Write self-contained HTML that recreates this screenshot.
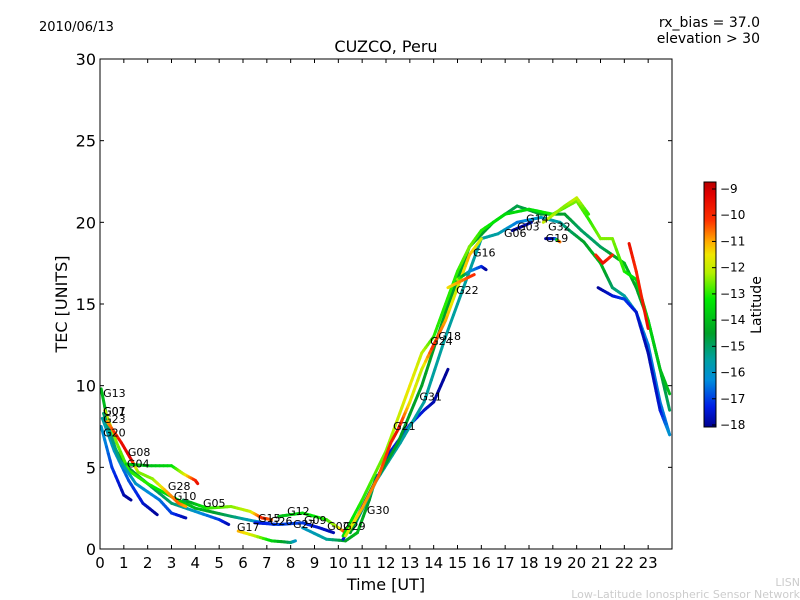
<!DOCTYPE html>
<html><head><meta charset="utf-8"><style>
body{margin:0;background:#fff;}
svg{display:block;font-family:"DejaVu Sans","Liberation Sans",sans-serif;}
</style></head><body>
<svg id="chart" width="800" height="600">
<rect width="800" height="600" fill="#fff"/>
<text x="39" y="31" font-size="13">2010/06/13</text>
<text x="760" y="27" font-size="14" text-anchor="end">rx_bias = 37.0</text>
<text x="760" y="43" font-size="14" text-anchor="end">elevation &gt; 30</text>
<text x="386" y="52" font-size="16" text-anchor="middle">CUZCO, Peru</text>
<g id="plot"></g>
<g id="axes"></g>
<text x="386" y="590" font-size="16" text-anchor="middle">Time [UT]</text>
<text transform="translate(67,304) rotate(-90)" font-size="16" text-anchor="middle">TEC [UNITS]</text>
<g id="cbar"></g>
<text transform="translate(761,305) rotate(-90)" font-size="14" text-anchor="middle">Latitude</text>
<text x="800" y="586" font-size="11" fill="#ccc" text-anchor="end">LISN</text>
<text x="800" y="598" font-size="11" fill="#ccc" text-anchor="end">Low-Latitude Ionospheric Sensor Network</text>
</svg>
<script>
const xTicks=[0,1,2,3,4,5,6,7,8,9,10,11,12,13,14,15,16,17,18,19,20,21,22,23];
const yTicks=[0,5,10,15,20,25,30];
const cbTicks=[-9,-10,-11,-12,-13,-14,-15,-16,-17,-18];
// tracks: [hour, tec, latitude]
const trackG01=[[0.05,7.5,-16],[0.5,5,-17],[1,3.3,-17.8],[1.3,3,-18]];
const trackG23=[[0.1,8,-15.5],[0.6,6,-16],[1.2,4.2,-16.8],[1.8,2.8,-17.5],[2.4,2.1,-18]];
const trackG20=[[0.15,8.3,-15],[0.8,5.5,-15.3],[1.5,4,-16],[2.5,3,-16.5],[3,2.2,-17],[3.6,1.9,-17.8]];
const trackG13=[[0.05,9.8,-14],[0.5,6.5,-14.2],[1,5.2,-14.5],[2,4,-14.8],[3,2.8,-15],[4,2.3,-16],[5,1.8,-17],[5.4,1.5,-17.8]];
const trackG07=[[0.2,8.5,-12],[0.7,6.5,-12.5],[1.2,4.8,-13],[2,4,-13],[3,3.2,-13.5],[4,2.5,-14],[5.5,2,-15],[6.5,1.7,-16],[7.3,1.5,-17.5]];
const trackG08=[[0.3,7.8,-11],[0.9,6.5,-9.5],[1.3,5.5,-9.2],[1.6,4.7,-12.5],[2.2,4.3,-12.5],[2.8,3.5,-11],[3.3,2.8,-10.5],[3.6,2.6,-11]];
const trackG04=[[1.1,5.2,-13.5],[2,5.1,-14],[3,5.1,-13.5],[3.5,4.6,-12],[4,4.2,-10],[4.1,4,-9.5]];
const trackG05=[[3.5,3,-15],[4.5,2.5,-13],[5.5,2.6,-12.5],[6.3,2.3,-12],[6.8,1.9,-10],[7.2,1.8,-10.5]];
const trackG17=[[5.8,1.1,-11],[6.5,0.8,-12],[7.2,0.5,-13.5],[8,0.4,-15],[8.2,0.5,-16]];
const trackG12=[[7.5,2.0,-14],[8.5,2.2,-13.5],[9.5,1.8,-13],[10,1.3,-12],[10.3,1.0,-10]];
const trackG26=[[6.5,1.6,-17.5],[7.5,1.5,-17],[8.5,1.6,-17],[9.2,1.3,-17.5],[9.8,1.0,-17.8]];
const trackG02=[[8.5,1.3,-16],[9.5,0.6,-15.5],[10.3,0.5,-14.5],[10.8,1.0,-14],[11.3,3,-14.5],[11.6,4.5,-15]];
const trackG30=[[10.2,0.6,-17.5],[10.8,2,-17.8],[11.5,4,-18],[12.2,6,-17.5],[13,7.6,-17],[13.6,8.5,-17.5],[14,9,-17.8],[14.6,11,-18]];
const trackG21=[[10.3,0.8,-12],[11,2.5,-11],[11.7,4.5,-10.5],[12.2,6.5,-10],[12.5,7.3,-9.5],[13,9,-11.5],[13.5,11,-12],[14,12.5,-10],[14.5,14,-11],[15,16,-12],[15.5,18,-11],[16,19,-12]];
const trackG18=[[10.2,0.8,-13.5],[11,3,-13],[12,6,-12.5],[12.5,8,-12],[13,10,-11.5],[13.5,12,-12],[14,13,-13],[14.5,15,-13],[15,17,-13],[15.5,18.5,-12.5],[16,19.5,-13],[17,20.5,-13.5],[18,20.8,-13.5],[19,20.5,-13],[20,21.3,-12.5],[20.5,20.2,-13],[21,19,-12.5],[21.5,19,-12.5],[22,17,-13],[22.5,16.5,-13.5],[23,14,-13.5],[23.5,11,-14],[23.9,9.5,-14]];
const trackG24=[[10.5,1,-14.5],[11.5,4,-14.5],[12.5,6.5,-14.5],[13.5,10,-14.5],[14.5,14.5,-14.5],[15.5,18.5,-14.5],[16.5,20,-14.5],[17.5,21,-14.8],[18.5,20.5,-14.5],[19.5,20.5,-14.5],[20.2,19.5,-15],[21,18.5,-15],[21.5,18,-14.5],[22,17.5,-14],[22.5,16,-14.5],[23,14,-14.5],[23.5,11,-14.5],[23.9,8.5,-15]];
const trackG06=[[10.6,1.2,-15.5],[11.6,4.2,-15.5],[12.6,6.5,-15.5],[13.6,9,-15.5],[14.5,13,-15.5],[15.5,17,-15.5],[16,19,-15.5],[16.7,19.3,-15.5],[17.5,20,-16.5],[18.5,20.3,-16],[19.3,20,-15.5],[19.7,19.5,-15],[20.3,18.8,-14.5],[21,17.5,-14],[21.5,16,-15],[22,15.5,-15.5],[22.5,14.5,-16],[23,12.5,-16.5],[23.5,9,-16.5],[23.9,7,-16.5]];
const trackG16=[[15,16.5,-12],[15.5,17,-16],[16,17.3,-17],[16.2,17.1,-18]];
const trackG22=[[14.6,16,-11.5],[15,16.3,-11],[15.7,16.8,-10]];
const trackG03=[[17.3,19.5,-18],[17.8,19.8,-18],[18.1,20,-17.5]];
const trackG19=[[18.7,19,-18],[19.1,19,-17.5],[19.3,18.8,-10]];
const trackG32=[[18.6,20,-12],[19.5,21,-12.5],[20,21.5,-12],[20.5,20.5,-13]];
const trackG14=[[20.9,16,-18],[21.5,15.5,-17.5],[22,15.3,-17],[22.5,14.5,-17.5],[23,12,-17.8],[23.5,8.5,-17.5],[23.9,7,-16]];
const trackG27=[[22.2,18.7,-9.5],[22.5,17,-10],[23,13.5,-9.5]];
const trackG09=[[20.8,18,-10],[21.1,17.5,-9.5],[21.5,18,-10]];
const tracks=[trackG13,trackG07,trackG23,trackG20,trackG01,trackG08,trackG04,trackG05,trackG17,trackG12,trackG26,trackG02,trackG30,trackG06,trackG24,trackG18,trackG21,trackG16,trackG22,trackG32,trackG03,trackG19,trackG14,trackG27,trackG09];
const labelNames=["G13","G01","G07","G23","G20","G08","G04","G28","G10","G05","G17","G15","G26","G12","G09","G27","G02","G29","G30","G21","G31","G24","G18","G22","G16","G06","G03","G14","G32","G19"];
const labelHours=[0.13,0.13,0.13,0.13,0.13,1.17,1.13,2.85,3.1,4.32,5.75,6.63,7.13,7.85,8.56,8.1,9.53,10.2,11.2,12.3,13.4,13.85,14.2,14.94,15.65,16.95,17.5,17.88,18.8,18.7];
const labelTec=[9.3,8.2,8.2,7.7,6.9,5.7,5.0,3.6,3.0,2.57,1.1,1.65,1.47,2.08,1.53,1.29,1.16,1.16,2.14,7.3,9.1,12.5,12.8,15.6,17.9,19.1,19.5,20.0,19.5,18.8];

const X0=100,X1=672,Y0=549,Y1=59;
const sx=h=>X0+h*(X1-X0)/24;
const sy=v=>Y0-v*(Y0-Y1)/30;
const cy=l=>189+(-9-l)*(425-189)/9;
const NS="http://www.w3.org/2000/svg";
function mk(tag,attrs,parent){const e=document.createElementNS(NS,tag);for(const k in attrs)e.setAttribute(k,attrs[k]);parent.appendChild(e);return e;}
const stops=[[-18.1,[0,0,140]],[-17.3,[0,30,230]],[-16.3,[0,140,220]],[-15.5,[0,160,160]],[-14.5,[0,160,40]],[-13.2,[0,235,0]],[-12.2,[180,240,0]],[-11.5,[240,230,0]],[-11,[255,170,0]],[-10.2,[255,50,0]],[-9.2,[225,0,0]],[-8.7,[180,0,0]]];
function col(l){if(l<=stops[0][0])return `rgb(${stops[0][1]})`;for(let i=1;i<stops.length;i++){if(l<=stops[i][0]){const a=stops[i-1],b=stops[i];const t=(l-a[0])/(b[0]-a[0]);const c=a[1].map((v,j)=>Math.round(v+(b[1][j]-v)*t));return `rgb(${c})`;}}return `rgb(${stops[stops.length-1][1]})`;}
const plot=document.getElementById('plot');
tracks.forEach((tr,ti)=>{
  const g=mk('g',{},plot);
  
  
  for(let i=1;i<tr.length;i++){
    const a=tr[i-1],b=tr[i];const n=6;
    for(let k=0;k<n;k++){
      const t0=k/n,t1=(k+1)/n;
      const h0=a[0]+(b[0]-a[0])*t0,v0=a[1]+(b[1]-a[1])*t0;
      const h1=a[0]+(b[0]-a[0])*t1,v1=a[1]+(b[1]-a[1])*t1;
      const l=a[2]+(b[2]-a[2])*(t0+t1)/2;
      mk('line',{x1:sx(h0),y1:sy(v0),x2:sx(h1),y2:sy(v1),stroke:col(l),'stroke-width':3,'stroke-linecap':'round'},g);
    }
  }
});
labelNames.forEach((n,i)=>{
  const t=mk('text',{x:sx(labelHours[i]),y:sy(labelTec[i]),'font-size':11},plot);
  t.textContent=n;
  
  
});
const ax=document.getElementById('axes');
mk('rect',{x:X0,y:Y1,width:X1-X0,height:Y0-Y1,fill:'none',stroke:'#000','stroke-width':1},ax);
xTicks.forEach(h=>{
  mk('line',{x1:sx(h),y1:Y0,x2:sx(h),y2:Y0-4,stroke:'#000'},ax);
  mk('line',{x1:sx(h),y1:Y1,x2:sx(h),y2:Y1+4,stroke:'#000'},ax);
  const t=mk('text',{x:sx(h),y:568,'font-size':15,'text-anchor':'middle'},ax);t.textContent=h;
  
  
});
yTicks.forEach(v=>{
  mk('line',{x1:X0,y1:sy(v),x2:X0+4,y2:sy(v),stroke:'#000'},ax);
  mk('line',{x1:X1,y1:sy(v),x2:X1-4,y2:sy(v),stroke:'#000'},ax);
  const t=mk('text',{x:96,y:sy(v)+6,'font-size':16,'text-anchor':'end'},ax);t.textContent=v;
  
  
});
const cb=document.getElementById('cbar');
for(let y=182;y<427;y++){const l=-9-(y+0.5-189)*9/(425-189);mk('rect',{x:704,y:y,width:12,height:1.2,fill:col(l)},cb);}
mk('rect',{x:704,y:182,width:12,height:245,fill:'none',stroke:'#000','stroke-width':1},cb);
cbTicks.forEach(l=>{
  mk('line',{x1:712,y1:cy(l),x2:716,y2:cy(l),stroke:'#000'},cb);
  const t=mk('text',{x:720,y:cy(l)+4,'font-size':12},cb);t.textContent='\u2212'+Math.abs(l);
  
  
});
</script>
</body></html>
